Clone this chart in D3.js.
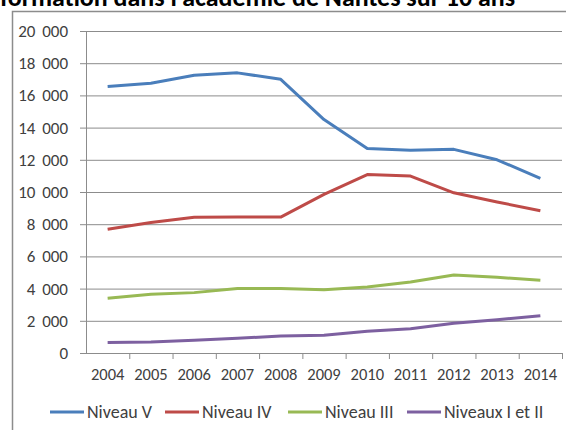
<!DOCTYPE html>
<html lang="fr">
<meta charset="UTF-8">
<style>
    body { margin: 0; background: #fff; }
    text { font-family: Carlito, Lato, sans-serif; fill: #404040; }
    .grid line { stroke: #8c8c8c; stroke-width: 1px; }
    .serie { fill: none; stroke-width: 3px; stroke-linejoin: round; }
</style>
<body>
<svg id="chart" width="566" height="430"></svg>
<script src="https://d3js.org/d3.v7.min.js"></script>
<script>
const years = ["2004","2005","2006","2007","2008","2009","2010","2011","2012","2013","2014"];
const niveauV   = [16550, 16750, 17250, 17400, 17000, 14500, 12700, 12600, 12650, 12000, 10850];
const niveauIV  = [7680, 8100, 8430, 8440, 8440, 9850, 11080, 10990, 9950, 9380, 8840];
const niveauIII = [3400, 3650, 3750, 4000, 4000, 3930, 4100, 4410, 4850, 4700, 4520];
const niveauxI  = [650, 690, 790, 910, 1060, 1100, 1350, 1510, 1850, 2060, 2320];
const yTicks = [0, 2000, 4000, 6000, 8000, 10000, 12000, 14000, 16000, 18000, 20000];

const series = [
    {name: "Niveau V", values: niveauV, color: "#4a7ebb"},
    {name: "Niveau IV", values: niveauIV, color: "#be4b48"},
    {name: "Niveau III", values: niveauIII, color: "#98b954"},
    {name: "Niveaux I et II", values: niveauxI, color: "#7d60a0"}
];

const svg = d3.select('#chart');
const mLeft = 86, mRight = 562, mTop = 31, mBottom = 353;

// cadre du graphique (coupé par la capture)
svg.append('path')
    .attr('d', 'M12.5,440V11.5H580')
    .attr('fill', 'none')
    .attr('stroke', '#8c8c8c')
    .attr('stroke-width', 1.5);

// titre, coupé en haut
svg.append('text')
    .attr('x', 0)
    .attr('y', 6)
    .attr('font-size', '26px')
    .attr('font-weight', 'bold')
    .attr('textLength', 515)
    .attr('lengthAdjust', 'spacingAndGlyphs')
    .style('fill', '#000')
    .text("formation dans l'académie de Nantes sur 10 ans");

const x = d3.scaleBand().domain(years).range([mLeft, mRight]);
const y = d3.scaleLinear().domain([0, 20000]).range([mBottom, mTop]);
const fmt = d => d3.format(",")(d).replace(",", "\u2009\u2009");

// grille + axe y
const yAxis = svg.append('g')
    .attr('class', 'grid')
    .attr('transform', `translate(${mLeft},0)`)
    .call(d3.axisLeft(y).tickValues(yTicks).tickFormat(fmt).tickSize(6).tickPadding(12));
yAxis.select('.domain').remove();
yAxis.selectAll('.tick line').attr('x2', mRight - mLeft).attr('x1', -6);
yAxis.selectAll('text').attr('font-size', '17px').attr('font-family', null);

svg.append('line')
    .attr('x1', mLeft + 0.5).attr('x2', mLeft + 0.5)
    .attr('y1', mTop).attr('y2', mBottom)
    .attr('stroke', '#8c8c8c');

// axe x
const xAxis = svg.append('g')
    .attr('transform', `translate(0,${mBottom})`)
    .call(d3.axisBottom(x).tickSize(0).tickPadding(15));
xAxis.select('.domain').attr('stroke', '#8c8c8c');
xAxis.selectAll('text').attr('font-size', '16.5px').attr('font-family', null);
svg.append('g')
    .selectAll('line')
    .data(years)
    .enter().append('line')
    .attr('x1', d => x(d) + x.bandwidth() + 0.5)
    .attr('x2', d => x(d) + x.bandwidth() + 0.5)
    .attr('y1', mBottom).attr('y2', mBottom + 6)
    .attr('stroke', '#8c8c8c');

// courbes
const line = d3.line()
    .x((d, i) => x(years[i]) + x.bandwidth() / 2)
    .y(d => y(d));

svg.selectAll('.serie')
    .data(series)
    .enter().append('path')
    .attr('class', 'serie')
    .attr('stroke', d => d.color)
    .attr('d', d => line(d.values));

// légende
const legendX = [50, 165, 288, 407];
const leg = svg.selectAll('.leg')
    .data(series)
    .enter().append('g')
    .attr('class', 'leg')
    .attr('transform', (d, i) => `translate(${legendX[i]},412)`);
leg.append('line')
    .attr('x1', 0).attr('x2', 34)
    .attr('stroke', d => d.color)
    .attr('stroke-width', 3);
leg.append('text')
    .attr('x', 37)
    .attr('dy', '0.35em')
    .attr('font-size', '18px')
    .text(d => d.name);
</script>
</body>
</html>
